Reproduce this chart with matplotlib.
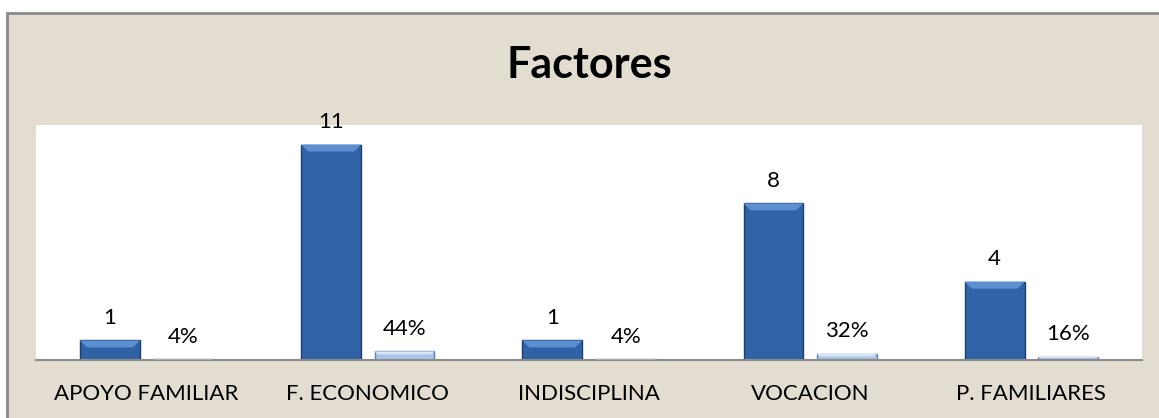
import numpy as np
import matplotlib.pyplot as plt
from matplotlib.patches import Rectangle, Polygon

# Data
categories = ["APOYO FAMILIAR", "F. ECONOMICO", "INDISCIPLINA", "VOCACION", "P. FAMILIARES"]
counts = [1, 11, 1, 8, 4]
percents = [0.04, 0.44, 0.04, 0.32, 0.16]

plt.rcParams['font.family'] = ['Lato', 'DejaVu Sans']

fig = plt.figure(figsize=(11.59, 4.18), dpi=100)
fig.patch.set_facecolor('white')

# parchment frame behind everything
frame = Rectangle((7 / 1159, -0.05), 1.0, (418 - 13) / 418 + 0.05, transform=fig.transFigure,
                  facecolor='#e3dcd0', edgecolor='#8a8a8a', linewidth=2, zorder=-5)
fig.patches.append(frame)

ax = fig.add_axes([36 / 1159, 1 - 360 / 418, (1142 - 36) / 1159, (360 - 125) / 418])
ax.set_zorder(2)
ax.set_facecolor('white')

x = np.arange(len(categories))
w = 0.271
off = 0.166

b1 = ax.bar(x - off, counts, w, color='#2f63a6', edgecolor='#1c3f70', linewidth=1.0, zorder=2)
b2 = ax.bar(x + off, percents, w, color='#a9c3e6', edgecolor='#5d80b6', linewidth=1.0, zorder=2)

ax.set_xlim(-0.5, 4.5)
ax.set_ylim(0, 12)

# bevel on top of the bars (lighter top band)
def add_bevel(bars, color, depth_px=7):
    inv = ax.transData.inverted()
    for p in bars:
        x0, y0 = p.get_x(), p.get_y()
        bw, bh = p.get_width(), p.get_height()
        px0 = ax.transData.transform((x0, y0 + bh))
        px1 = ax.transData.transform((x0 + bw, y0 + bh))
        d = min(depth_px, (px0[1] - ax.transData.transform((x0, y0))[1]) * 0.45)
        a = inv.transform((px0[0] + d, px0[1] - d))
        b = inv.transform((px1[0] - d, px1[1] - d))
        poly = Polygon([(x0, y0 + bh), (x0 + bw, y0 + bh), b, a], closed=True,
                       facecolor=color, edgecolor='none', zorder=3)
        ax.add_patch(poly)

fig.canvas.draw()
add_bevel(b1, '#5b8fd0')
add_bevel(b2, '#d6e4f5', depth_px=3)

for p, v in zip(b1, counts):
    ax.annotate(str(v), (p.get_x() + p.get_width() / 2, p.get_height()),
                xytext=(0, 9), textcoords='offset points', ha='center', va='bottom',
                fontsize=16, color='black')
for p, v in zip(b2, percents):
    ax.annotate(f"{v:.0%}", (p.get_x() + p.get_width() / 2, p.get_height()),
                xytext=(0, 9), textcoords='offset points', ha='center', va='bottom',
                fontsize=16, color='black')

ax.set_xticks(x)
ax.set_xticklabels(categories, fontsize=16)
ax.tick_params(axis='x', length=0, pad=17)
ax.set_yticks([])
for s in ['top', 'left', 'right']:
    ax.spines[s].set_visible(False)
ax.spines['bottom'].set_color('#8c8c8c')
ax.spines['bottom'].set_linewidth(1.5)

fig.text(589 / 1159, 1 - 65 / 418, "Factores", ha='center', va='center',
         fontsize=31, fontweight='bold', color='black')

fig.savefig('out.png', dpi=100, facecolor=fig.get_facecolor())
